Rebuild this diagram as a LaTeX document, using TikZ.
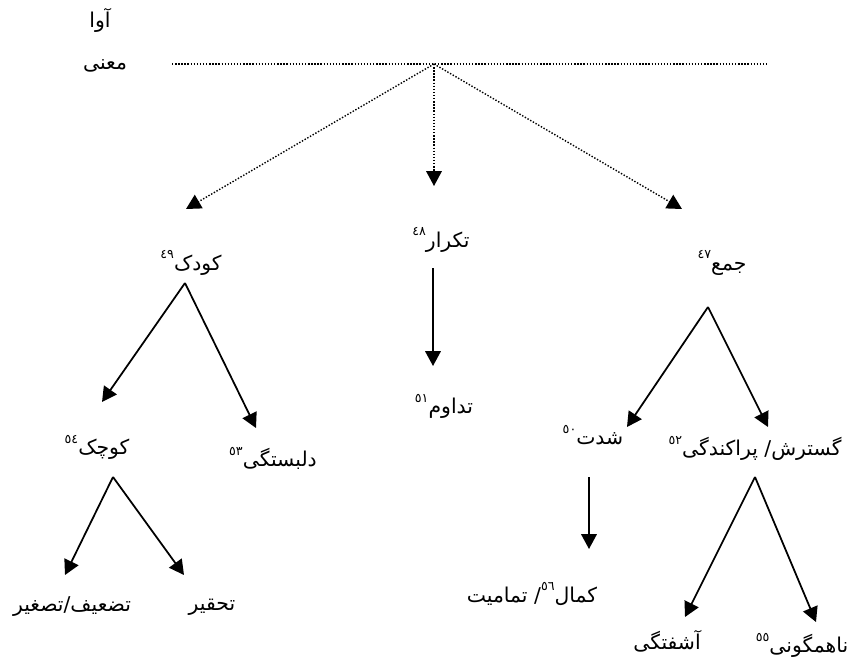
\documentclass[tikz,border=0pt]{standalone}
\usepackage{fontspec}
\usetikzlibrary{arrows.meta}
\newfontfamily\arabicfont[Script=Arabic]{DejaVu Sans}
\TeXXeTstate=1
\newcommand\rtl[1]{\beginR #1\endR}
\newcommand\refno[1]{\raisebox{1.0ex}{\fontsize{9}{10}\selectfont #1}}

\begin{document}
\begin{tikzpicture}[x=0.025cm,y=-0.025cm,
		word/.style={font=\arabicfont\fontsize{14.5}{16}\selectfont, inner sep=1pt},
		tipped/.style={-{Triangle[length=10.5pt,width=11pt]}},
		link/.style={tipped, line width=1.25pt},
		dots/.style={tipped, line width=1pt, dash pattern=on 1pt off 1.2pt}]
	\useasboundingbox (0,0) rectangle (850,666);
	% labels
	\node[word] (ava) at (100,20) {\rtl{آوا}};
	\node[word] (mana) at (105,66) {\rtl{معنی}};
	\node[word] (tekrar) at (441,240) {\rtl{تکرار\refno{٤٨}}};
	\node[word] (kudak) at (191,263) {\rtl{کودک\refno{٤٩}}};
	\node[word] (jam) at (722,263) {\rtl{جمع\refno{٤٧}}};
	\node[word] (tadavom) at (444,406) {\rtl{تداوم\refno{٥١}}};
	\node[word] (shedat) at (593,435) {\rtl{شدت\refno{٥٠}}};
	\node[word] (gostaresh) at (755,448) {\rtl{گسترش\kern0pt/ پراکندگی\refno{٥٢}}};
	\node[word] (kuchak) at (97,447) {\rtl{کوچک\refno{٥٤}}};
	\node[word] (delbastegi) at (273,458) {\rtl{دلبستگی\refno{٥٣}}};
	\node[word] (tazif) at (72,607) {\rtl{تضعیف\kern0pt/\kern0pt تصغیر}};
	\node[word] (tahqir) at (212,607) {\rtl{تحقیر}};
	\node[word] (kamal) at (532,594) {\rtl{کمال\refno{٥٦}\kern0pt/ تمامیت}};
	\node[word] (ashoftegi) at (667,641) {\rtl{آشفتگی}};
	\node[word] (nahamgoni) at (802,645) {\rtl{ناهمگونی\refno{٥٥}}};
	% line ends
	\coordinate (lineL) at (172,64);
	\coordinate (lineR) at (769,64);
	\coordinate (hub) at (434,64);
	\coordinate (kudakTip) at (186,209);
	\coordinate (tekrarTip) at (434,186);
	\coordinate (jamTip) at (682,209);
	\coordinate (kudakTop) at (185,283);
	\coordinate (kuchakTip) at (102,402);
	\coordinate (delbTip) at (256,428);
	\coordinate (tekrarTop) at (433,268);
	\coordinate (tadavomTip) at (433,366);
	\coordinate (jamTop) at (708,307);
	\coordinate (shedatTip) at (627,427);
	\coordinate (gostTip) at (768,427);
	\coordinate (kuchakTop) at (113,477);
	\coordinate (tazifTip) at (65,575);
	\coordinate (tahqirTip) at (184,575);
	\coordinate (shedatTop) at (589,477);
	\coordinate (kamalTip) at (589,549);
	\coordinate (gostTop) at (755,477);
	\coordinate (ashofTip) at (685,617);
	\coordinate (nahamTip) at (816,622);
	% dotted
	\draw[line width=1pt, dash pattern=on 1pt off 1.2pt] (lineL) -- (lineR);
	\draw[dots] (hub) -- (kudakTip);
	\draw[dots] (hub) -- (tekrarTip);
	\draw[dots] (hub) -- (jamTip);
	% solid
	\draw[link] (kudakTop) -- (kuchakTip);
	\draw[link] (kudakTop) -- (delbTip);
	\draw[link] (tekrarTop) -- (tadavomTip);
	\draw[link] (jamTop) -- (shedatTip);
	\draw[link] (jamTop) -- (gostTip);
	\draw[link] (kuchakTop) -- (tazifTip);
	\draw[link] (kuchakTop) -- (tahqirTip);
	\draw[link] (shedatTop) -- (kamalTip);
	\draw[link] (gostTop) -- (ashofTip);
	\draw[link] (gostTop) -- (nahamTip);
\end{tikzpicture}
\end{document}
